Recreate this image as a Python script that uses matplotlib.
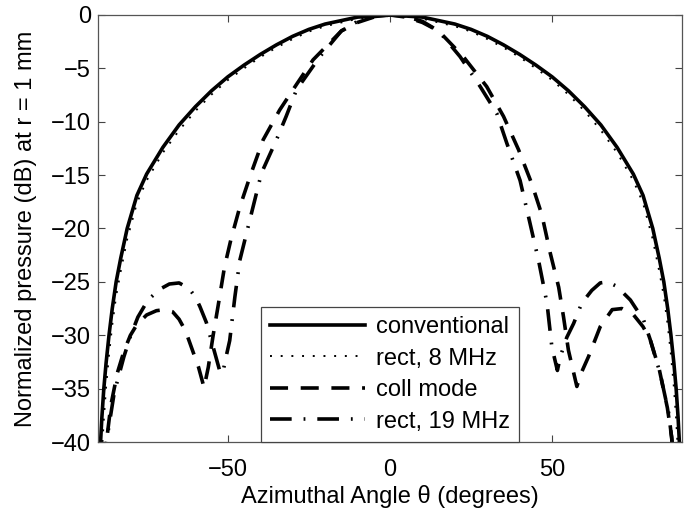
import matplotlib
matplotlib.use("Agg")
import matplotlib.pyplot as plt
import numpy as np

plt.rcParams['font.family'] = ['Liberation Sans', 'DejaVu Sans']

# values (angle in degrees, level in dB)
conv_theta = [-89.6, -89.2, -88.8, -88.2, -87.5, -86.6, -85.6, -84.4, -83, -81, -78, -75, -70, -65, -60,
              -55, -50, -45, -40, -35, -30, -25, -20, -10, 0, 10, 20, 25, 30, 35, 40, 45, 50, 55, 60,
              65, 70, 75, 78, 81, 83, 84.4, 85.6, 86.6, 87.5, 88.2, 88.8, 89.2, 89.6]
conv_db = [-44, -40.0, -37.7, -35.0, -32.6, -30.0, -27.5, -25.0, -22.8, -20.0, -16.9, -14.9, -12.4,
           -10.3, -8.6, -7.1, -5.8, -4.7, -3.7, -2.8, -2.0, -1.35, -0.85, -0.2, 0, -0.2, -0.85, -1.35,
           -2.0, -2.8, -3.7, -4.7, -5.8, -7.1, -8.6, -10.3, -12.4, -14.9, -16.9, -20.0, -22.8, -25.0,
           -27.5, -30.0, -32.6, -35.0, -37.7, -40.0, -44]

rect8_theta = [-89.2, -88.8, -88.2, -87.5, -86.6, -85.6, -84.4, -83, -81, -78, -75, -70, -65, -60, -55,
               -50, -45, -40, -35, -30, -25, -20, -10, 0, 10, 20, 25, 30, 35, 40, 45, 50, 55, 60, 65,
               70, 75, 78, 81, 83, 84.4, 85.6, 86.6, 87.5, 88.2, 88.8, 89.2]
rect8_db = [-44, -41.0, -37.8, -34.8, -31.8, -29.0, -26.3, -24.0, -21.0, -17.6, -15.5, -12.9, -10.8,
            -9.0, -7.45, -6.1, -5.0, -3.95, -3.05, -2.25, -1.55, -1.05, -0.35, 0, -0.35, -1.05, -1.55,
            -2.25, -3.05, -3.95, -5.0, -6.1, -7.45, -9.0, -10.8, -12.9, -15.5, -17.6, -21.0, -24.0,
            -26.3, -29.0, -31.8, -34.8, -37.8, -41.0, -44]

coll_theta = [-88, -87.4, -86, -84, -82, -80, -78, -75, -72, -69.5, -67, -65, -63, -61, -59, -57.3, -56,
              -54.5, -53, -51, -49, -46.3, -43, -39.1, -34, -28.8, -23.7, -15, -10, -5, 0, 5, 10, 15,
              22.6, 29.8, 35, 39.6, 43.7, 46.8, 49.4, 52, 53.5, 55, 57.6, 59, 61.2, 64.8, 68.5, 71.5,
              75.1, 78, 80.2, 83, 85.5, 86.8, 87.4]
coll_db = [-42, -40, -36.5, -33.5, -31.5, -30.0, -29.0, -28.1, -27.7, -27.6, -27.8, -28.5, -29.6, -31.3,
           -33.0, -34.9, -33.0, -30.0, -27.3, -23.6, -21.0, -18.0, -15.0, -11.7, -8.9, -6.5, -4.2, -1.5,
           -0.7, -0.2, 0, -0.2, -0.7, -1.5, -3.9, -6.7, -9.5, -12.6, -15.8, -18.7, -22.3, -25.5, -28.3,
           -31.4, -34.8, -33.5, -32.0, -29.2, -27.6, -27.5, -28.1, -29.2, -30.4, -33.2, -36.8, -39.5, -42]

rect19_theta = [-88, -87.4, -85, -82, -80, -77.7, -74.6, -71, -68, -65, -62, -60, -58.6, -56.6, -54.5,
                -52.5, -51.6, -50.5, -49.4, -47.8, -46.3, -43.2, -39.6, -35, -32, -28.8, -21.6, -15,
                -10, -5, 0, 5, 10, 15, 21.6, 27.8, 32.9, 36, 40.1, 42.7, 45.8, 48.4, 49.9, 51.6, 52.5,
                54.5, 56.6, 59.1, 62.2, 64.8, 67, 69.8, 74.1, 78.2, 80.2, 83.3, 85.9, 86.9, 87.5]
rect19_db = [-42, -40, -35.4, -32.0, -30.1, -28.3, -26.7, -25.7, -25.2, -25.1, -25.6, -26.4, -27.3,
             -28.8, -31.1, -33.3, -33.6, -32.0, -30.5, -26.4, -23.0, -19.2, -14.8, -11.7, -9.5, -7.0,
             -3.9, -1.5, -0.6, -0.15, 0, -0.15, -0.6, -1.5, -3.9, -6.7, -9.2, -12.0, -15.5, -18.9,
             -23.0, -27.0, -31.1, -33.3, -32.0, -30.2, -28.9, -27.0, -25.8, -25.1, -25.0, -25.4, -26.7,
             -28.6, -30.4, -33.6, -37.3, -39.8, -42]

fs = 17

fig = plt.figure(figsize=(6.89, 5.13), dpi=100)
ax = fig.add_axes([0.1422, 0.1384, 0.8476, 0.8324])

ax.plot(conv_theta, conv_db, color='black', lw=2.6, ls='-', label='conventional')
ax.plot(rect8_theta, rect8_db, color='black', lw=1.4, dashes=(1, 4.5), label='rect, 8 MHz')
ax.plot(coll_theta, coll_db, color='black', lw=2.6, dashes=(5, 3.5), label='coll mode')
ax.plot(rect19_theta, rect19_db, color='black', lw=2.6, dashes=(6, 3.3, 0.5, 3.3), label='rect, 19 MHz')

ax.set_xlim(-90, 90)
ax.set_ylim(-40, 0)
ax.set_xticks([-50, 0, 50])
ax.set_yticks(np.arange(-40, 1, 5))
ax.tick_params(direction='in', top=True, right=True, length=5, width=0.8, color='#444',
               labelsize=fs)
ax.tick_params(axis='x', pad=12)
ax.tick_params(axis='y', pad=5)
for s in ax.spines.values():
    s.set_color('#555')
    s.set_linewidth(0.9)

ax.set_xlabel('Azimuthal Angle θ (degrees)', fontsize=fs, labelpad=3)
ax.set_ylabel('Normalized pressure (dB) at r = 1 mm', fontsize=fs, labelpad=10)

leg = ax.legend(loc='lower center', bbox_to_anchor=(0.5, 0.0), borderaxespad=0, fontsize=fs,
                handlelength=4.0, handletextpad=0.45, labelspacing=0.4, borderpad=0.4,
                fancybox=False, framealpha=1, edgecolor='#444')
leg.get_frame().set_linewidth(0.9)

fig.savefig('out.png', dpi=100)
